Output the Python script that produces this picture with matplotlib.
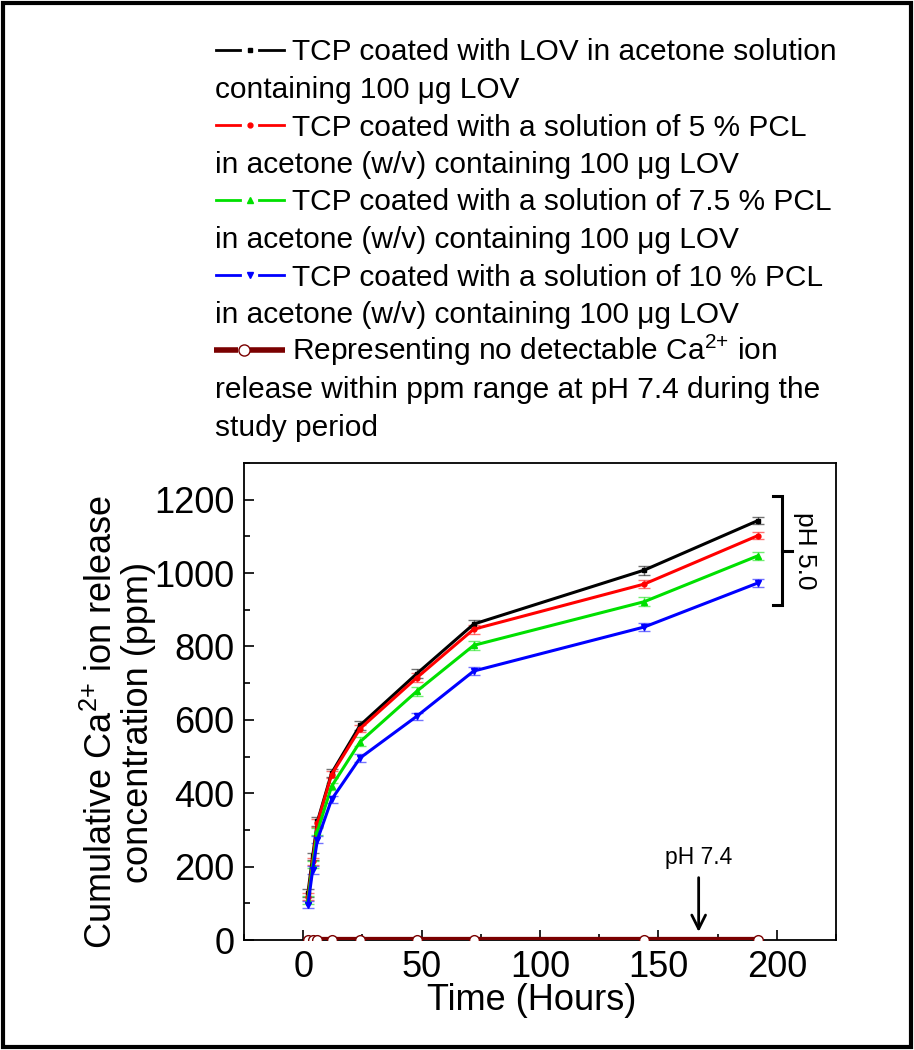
import numpy as np
import matplotlib
matplotlib.use("Agg")
import matplotlib.pyplot as plt
from matplotlib.lines import Line2D
from matplotlib.patches import Rectangle
from matplotlib.ticker import MultipleLocator

plt.rcParams['font.family'] = ['Liberation Sans', 'DejaVu Sans']
plt.rcParams['mathtext.fontset'] = 'custom'
plt.rcParams['mathtext.rm'] = 'Liberation Sans'
plt.rcParams['mathtext.it'] = 'Liberation Sans:italic'

# sampling times (hours)
hours = [2, 4, 6, 12, 24, 48, 72, 144, 192]

# cumulative Ca2+ release at pH 5.0 (ppm)
lov = [128, 228, 323, 455, 585, 726, 861, 1008, 1143]
pcl5 = [118, 214, 319, 451, 576, 715, 847, 970, 1102]
pcl75 = [109, 205, 296, 419, 540, 678, 803, 922, 1047]
pcl10 = [96, 191, 273, 383, 496, 610, 733, 853, 973]

lov_err = [12, 10, 12, 10, 12, 12, 12, 12, 10]
pcl5_err = [10, 10, 10, 10, 10, 12, 12, 12, 10]
pcl75_err = [10, 10, 10, 10, 12, 12, 12, 12, 10]
pcl10_err = [10, 10, 10, 10, 10, 10, 10, 10, 10]

# pH 7.4: nothing detectable
ph74 = [0, 0, 0, 0, 0, 0, 0, 0, 0]

SUP = r"$^{\mathregular{2{+}}}$"
legend_lines = [
    "TCP coated with LOV in acetone solution",
    "containing 100 \u03bcg LOV",
    "TCP coated with a solution of 5 % PCL",
    "in acetone (w/v) containing 100 \u03bcg LOV",
    "TCP coated with a solution of 7.5 % PCL",
    "in acetone (w/v) containing 100 \u03bcg LOV",
    "TCP coated with a solution of 10 % PCL",
    "in acetone (w/v) containing 100 \u03bcg LOV",
    "Representing no detectable Ca" + SUP + " ion",
    "release within ppm range at pH 7.4 during the",
    "study period",
]

W, H = 914, 1050
fig = plt.figure(figsize=(W / 100, H / 100), dpi=100)

def fx(px):
    return px / W

def fy(py):
    return 1 - py / H

ax = fig.add_axes([fx(244), fy(940), fx(836) - fx(244), fy(463) - fy(940)])

series = [
    (lov, lov_err, 'black', 's', 3),
    (pcl5, pcl5_err, '#ff0000', 'o', 3.5),
    (pcl75, pcl75_err, '#00e000', '^', 4.5),
    (pcl10, pcl10_err, '#0000ff', 'v', 4.5),
]
for vals, err, col, mk, ms in series:
    ax.errorbar(hours, vals, yerr=err, color=col, lw=2.2, marker=mk, ms=ms,
                ecolor=col, elinewidth=1, capsize=4, capthick=1, zorder=3)
# lighter error bars
for c in ax.containers:
    for part in c.lines[1] + c.lines[2]:
        part.set_alpha(0.55)

ax.plot(hours, ph74, color='#7a0000', lw=4.5, marker='o', ms=7,
        mfc='white', mec='#7a0000', mew=1, zorder=4)

ax.set_xlim(-25, 225)
ax.set_ylim(0, 1300)
ax.xaxis.set_major_locator(MultipleLocator(50))
ax.xaxis.set_minor_locator(MultipleLocator(25))
ax.yaxis.set_major_locator(MultipleLocator(200))
ax.yaxis.set_minor_locator(MultipleLocator(100))
ax.set_xticks([0, 50, 100, 150, 200])
ax.set_yticks([0, 200, 400, 600, 800, 1000, 1200])
ax.tick_params(which='both', direction='in', top=False, right=False,
               labelsize=26, pad=7, width=1.2)
ax.tick_params(which='major', length=7)
ax.tick_params(which='minor', length=4)
for sp in ax.spines.values():
    sp.set_linewidth(1.3)

# pH 5.0 bracket
bx0, bx1, bx2 = 198.5, 202, 206.5
ytop, ybot = 1210, 912
ymid = (ytop + ybot) / 2
ax.plot([bx0, bx1, bx1, bx0], [ytop, ytop, ybot, ybot], color='black', lw=2.2,
        clip_on=False, solid_joinstyle='miter')
ax.plot([bx1, bx2], [ymid, ymid], color='black', lw=2.2, clip_on=False)
ax.text(212, ymid, "pH 5.0", rotation=-90, ha='center', va='center', fontsize=19)

# pH 7.4 arrow
ax.annotate("pH 7.4", xy=(167, 22), xytext=(167, 224), ha='center', va='center',
            fontsize=16.5,
            arrowprops=dict(arrowstyle='->,head_length=0.6,head_width=0.3',
                            lw=2, color='black', shrinkA=4, shrinkB=0))

fig.text(fx(532), fy(1001), "Time (Hours)", ha='center', va='center', fontsize=26)
fig.text(fx(120), fy(722),
         "Cumulative Ca" + SUP + " ion release\nconcentration (ppm)",
         ha='center', va='center', rotation=90, fontsize=26, linespacing=1.05,
         multialignment='center')

# legend drawn line by line
handles = [
    ('black', 's', 3, 2, 'black'),
    ('#ff0000', 'o', 3.5, 2, '#ff0000'),
    ('#00e000', '^', 4.5, 2, '#00e000'),
    ('#0000ff', 'v', 4.5, 2, '#0000ff'),
]
step = 37.5
y0 = 50
for i, line in enumerate(legend_lines):
    yc = y0 + i * step
    if i in (0, 2, 4, 6, 8):
        k = i // 2
        if k < 4:
            col, mk, ms, lw, mfc = handles[k]
            fig.add_artist(Line2D([fx(216), fx(240)], [fy(yc)] * 2, color=col, lw=lw))
            fig.add_artist(Line2D([fx(259), fx(284)], [fy(yc)] * 2, color=col, lw=lw))
            fig.add_artist(Line2D([fx(249.5)], [fy(yc)], marker=mk, ms=ms, color=col, mfc=mfc))
        else:
            col = '#7a0000'
            fig.add_artist(Line2D([fx(214), fx(238)], [fy(yc)] * 2, color=col, lw=4,
                                  solid_capstyle='butt'))
            fig.add_artist(Line2D([fx(250), fx(285)], [fy(yc)] * 2, color=col, lw=4,
                                  solid_capstyle='butt'))
            fig.add_artist(Line2D([fx(244)], [fy(yc)], marker='o', ms=8, color=col,
                                  mfc='white', mew=1))
        tx = 292
    else:
        tx = 215
    fig.text(fx(tx), fy(yc + 10.5), line, ha='left', va='baseline', fontsize=21.5)

# page border
fig.add_artist(Rectangle((0.003, 0.003), 0.994, 0.994, transform=fig.transFigure,
                         fill=False, lw=3, ec='black'))

fig.savefig("out.png", dpi=100)
